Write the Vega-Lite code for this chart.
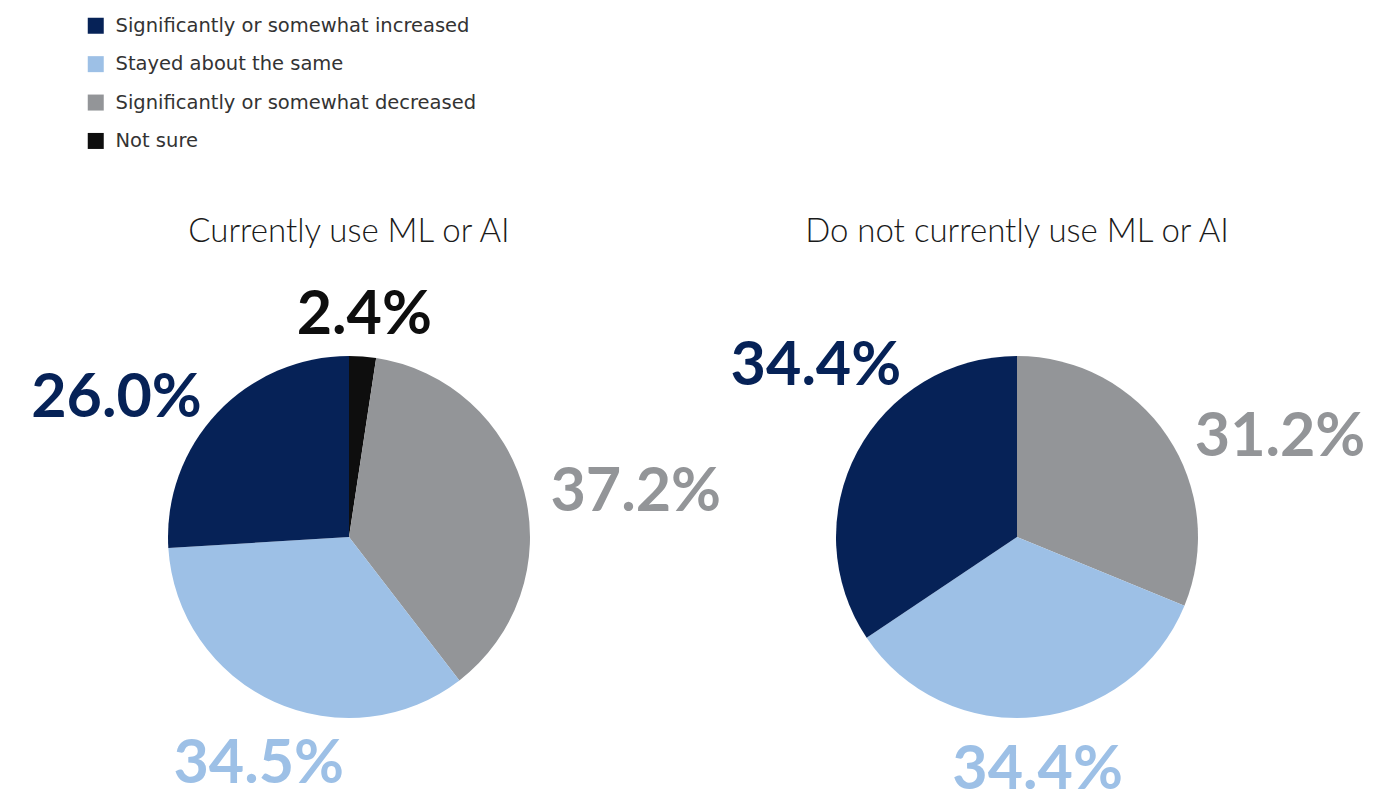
{
  "$schema": "https://vega.github.io/schema/vega-lite/v6.json",
  "padding": {"left": 29, "top": 16, "right": 0, "bottom": 0},
  "background": "white",
  "bounds": "flush",
  "data": {"values": [
    {"group": "Currently use ML or AI", "category": "Not sure", "order": 1, "value": 2.4},
    {"group": "Currently use ML or AI", "category": "Significantly or somewhat decreased", "order": 2, "value": 37.2},
    {"group": "Currently use ML or AI", "category": "Stayed about the same", "order": 3, "value": 34.5},
    {"group": "Currently use ML or AI", "category": "Significantly or somewhat increased", "order": 4, "value": 26.0},
    {"group": "Do not currently use ML or AI", "category": "Significantly or somewhat decreased", "order": 2, "value": 31.2},
    {"group": "Do not currently use ML or AI", "category": "Stayed about the same", "order": 3, "value": 34.4},
    {"group": "Do not currently use ML or AI", "category": "Significantly or somewhat increased", "order": 4, "value": 34.4}
  ]},
  "transform": [
    {"stack": "value", "groupby": ["group"], "sort": [{"field": "order", "order": "ascending"}], "offset": "normalize", "as": ["v0", "v1"]},
    {"calculate": "(datum.v0 + datum.v1) / 2", "as": "mid"},
    {"calculate": "format(datum.value, '.1f') + '%'", "as": "label"}
  ],
  "facet": {
    "column": {
      "field": "group", "type": "nominal",
      "sort": ["Currently use ML or AI", "Do not currently use ML or AI"],
      "header": {"title": null, "labelFontSize": 33, "labelFont": "Lato", "labelFontWeight": 300, "labelColor": "#1a1a1a", "labelPadding": 78}
    }
  },
  "spacing": 28,
  "spec": {
    "width": 640,
    "height": 420,
    "layer": [
      {
        "mark": {"type": "arc", "outerRadius": 181},
        "encoding": {
          "theta": {"field": "v0", "type": "quantitative", "scale": {"domain": [0, 1]}},
          "theta2": {"field": "v1"},
          "color": {
            "field": "category", "type": "nominal",
            "scale": {
              "domain": ["Significantly or somewhat increased", "Stayed about the same", "Significantly or somewhat decreased", "Not sure"],
              "range": ["#062257", "#9dc0e6", "#939598", "#0e0e0e"]
            },
            "legend": {
              "title": null, "orient": "none", "legendX": 57, "legendY": -311, "direction": "vertical",
              "symbolType": "square", "symbolSize": 256, "symbolStrokeWidth": 0,
              "labelFontSize": 19.5, "labelFont": "DejaVu Sans", "labelColor": "#333333", "labelOffset": 10, "labelLimit": 0,
              "rowPadding": 17.4, "padding": 0
            }
          }
        }
      },
      {
        "transform": [{"filter": "datum.category === 'Not sure'"}],
        "mark": {"type": "text", "radius": 204, "align": "center", "baseline": "alphabetic", "font": "Lato", "fontWeight": 700, "fontSize": 61, "color": "#0e0e0e"},
        "encoding": {
          "theta": {"field": "mid", "type": "quantitative", "stack": null, "scale": {"domain": [0, 1]}},
          "text": {"field": "label"}
        }
      },
      {
        "transform": [{"filter": "datum.category === 'Significantly or somewhat decreased' && datum.group === 'Currently use ML or AI'"}],
        "mark": {"type": "text", "radius": 208, "align": "left", "baseline": "middle", "dy": 8, "font": "Lato", "fontWeight": 700, "fontSize": 61, "color": "#939598"},
        "encoding": {
          "theta": {"field": "mid", "type": "quantitative", "stack": null, "scale": {"domain": [0, 1]}},
          "text": {"field": "label"}
        }
      },
      {
        "transform": [{"filter": "datum.category === 'Significantly or somewhat decreased' && datum.group === 'Do not currently use ML or AI'"}],
        "mark": {"type": "text", "radius": 214, "align": "left", "baseline": "middle", "dy": 20, "font": "Lato", "fontWeight": 700, "fontSize": 61, "color": "#939598"},
        "encoding": {
          "theta": {"field": "mid", "type": "quantitative", "stack": null, "scale": {"domain": [0, 1]}},
          "text": {"field": "label"}
        }
      },
      {
        "transform": [{"filter": "datum.category === 'Stayed about the same' && datum.group === 'Currently use ML or AI'"}],
        "mark": {"type": "text", "radius": 218, "align": "center", "baseline": "top", "font": "Lato", "fontWeight": 700, "fontSize": 61, "color": "#9dc0e6"},
        "encoding": {
          "theta": {"field": "mid", "type": "quantitative", "stack": null, "scale": {"domain": [0, 1]}},
          "text": {"field": "label"}
        }
      },
      {
        "transform": [{"filter": "datum.category === 'Stayed about the same' && datum.group === 'Do not currently use ML or AI'"}],
        "mark": {"type": "text", "radius": 205, "align": "center", "baseline": "top", "font": "Lato", "fontWeight": 700, "fontSize": 61, "color": "#9dc0e6"},
        "encoding": {
          "theta": {"field": "mid", "type": "quantitative", "stack": null, "scale": {"domain": [0, 1]}},
          "text": {"field": "label"}
        }
      },
      {
        "transform": [{"filter": "datum.category === 'Significantly or somewhat increased' && datum.group === 'Currently use ML or AI'"}],
        "mark": {"type": "text", "radius": 202, "align": "right", "baseline": "middle", "font": "Lato", "fontWeight": 700, "fontSize": 61, "color": "#062257"},
        "encoding": {
          "theta": {"field": "mid", "type": "quantitative", "stack": null, "scale": {"domain": [0, 1]}},
          "text": {"field": "label"}
        }
      },
      {
        "transform": [{"filter": "datum.category === 'Significantly or somewhat increased' && datum.group === 'Do not currently use ML or AI'"}],
        "mark": {"type": "text", "radius": 206, "align": "right", "baseline": "middle", "dx": 66, "dy": -73, "font": "Lato", "fontWeight": 700, "fontSize": 61, "color": "#062257"},
        "encoding": {
          "theta": {"field": "mid", "type": "quantitative", "stack": null, "scale": {"domain": [0, 1]}},
          "text": {"field": "label"}
        }
      }
    ]
  },
  "config": {"view": {"stroke": null}}
}
